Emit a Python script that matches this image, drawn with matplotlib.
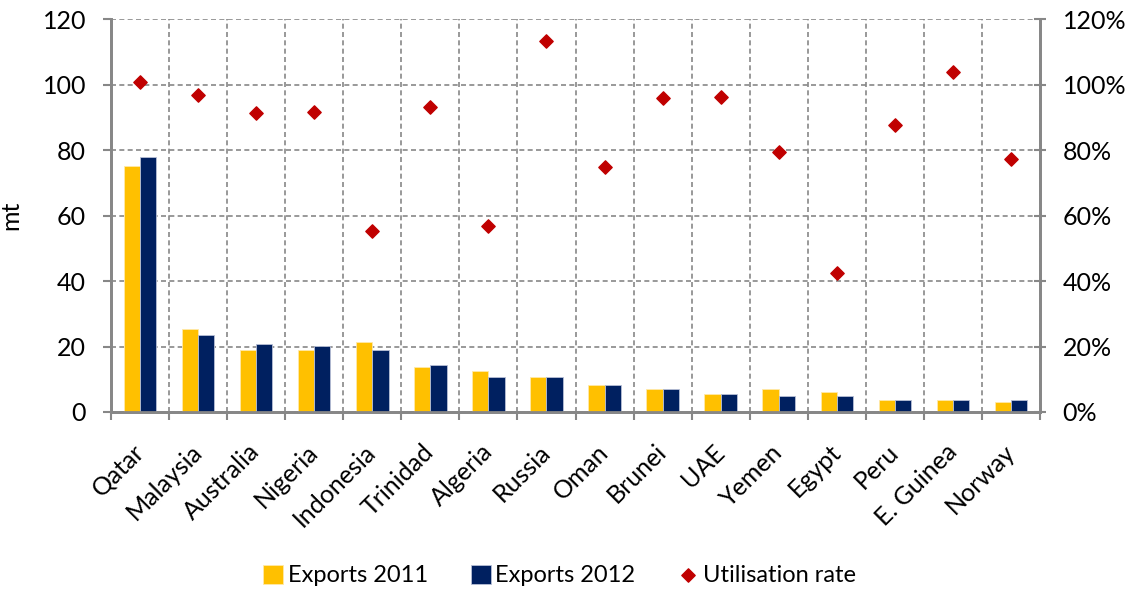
import numpy as np
import matplotlib.pyplot as plt
from matplotlib.ticker import FuncFormatter, FixedLocator

countries = ["Qatar", "Malaysia", "Australia", "Nigeria", "Indonesia", "Trinidad",
             "Algeria", "Russia", "Oman", "Brunei", "UAE", "Yemen", "Egypt",
             "Peru", "E. Guinea", "Norway"]
exports_2011 = [75.2, 25.3, 19.0, 19.0, 21.4, 13.8, 12.6, 10.7, 8.1, 6.9, 5.6, 6.9, 6.2, 3.7, 3.7, 3.0]
exports_2012 = [78.0, 23.4, 20.8, 20.2, 19.0, 14.5, 10.7, 10.7, 8.1, 6.9, 5.6, 5.0, 5.0, 3.7, 3.7, 3.7]
utilisation = [100.9, 96.7, 91.2, 91.6, 55.4, 93.1, 56.8, 113.4, 74.7, 95.8, 96.2, 79.3, 42.3, 87.7, 103.7, 77.3]

plt.rcParams['font.family'] = ['Lato', 'DejaVu Sans']
grey = '#878787'
fs = 18

fig = plt.figure(figsize=(11.3, 5.9), dpi=100)
ax = fig.add_axes([0.0982, 0.3017, 0.8222, 0.666])
ax2 = ax.twinx()

x = np.arange(len(countries))
w = 0.28
b1 = ax.bar(x - w / 2, exports_2011, w, color='#FFC000', edgecolor='#FFE9A8', linewidth=0.6,
            label='Exports 2011', zorder=3)
b2 = ax.bar(x + w / 2, exports_2012, w, color='#002060', edgecolor='#B8C0D6', linewidth=0.6,
            label='Exports 2012', zorder=3)
ax2.scatter(x, utilisation, marker='D', s=46, color='#C00000', zorder=4, label='Utilisation rate')

ax.set_xlim(-0.5, len(countries) - 0.5)
ax.set_ylim(0, 120)
ax2.set_ylim(0, 120)
ax.set_yticks(range(0, 121, 20))
ax2.set_yticks(range(0, 121, 20))
ax2.yaxis.set_major_formatter(FuncFormatter(lambda v, p: f"{int(v)}%"))

# category labels at bar centres, tick marks on category boundaries
ax.set_xticks(x)
ax.set_xticklabels(countries, rotation=45, ha='right', va='center', rotation_mode='anchor')
ax.tick_params(axis='x', length=0, labelsize=fs, pad=26)
ax.xaxis.set_minor_locator(FixedLocator(np.arange(-0.5, len(countries), 1.0)))
ax.tick_params(axis='x', which='minor', length=6, color=grey, width=1.5)
ax.tick_params(axis='y', length=6, color=grey, width=1.5, labelsize=fs, pad=12)
ax2.tick_params(axis='y', direction='inout', length=8.6, color=grey, width=1.5, labelsize=fs, pad=12)

ax.grid(True, which='minor', axis='x', linestyle=(0, (3, 2)), color=grey, linewidth=1.2, zorder=0)
ax.grid(True, which='major', axis='y', linestyle=(0, (3, 2)), color=grey, linewidth=1.2, zorder=0)
ax.set_axisbelow(True)

for a in (ax, ax2):
    a.spines['top'].set_visible(False)
    for s in ('left', 'right', 'bottom'):
        a.spines[s].set_color(grey)
        a.spines[s].set_linewidth(2)

ax.set_ylabel('mt', fontsize=fs)
ax.yaxis.set_label_coords(-0.096, 0.5)

handles = [b1, b2, ax2.collections[0]]
fig.legend(handles, [h.get_label() for h in handles], loc='lower center', ncol=3,
           frameon=False, fontsize=17, bbox_to_anchor=(0.495, -0.03),
           handlelength=0.85, handleheight=0.85, columnspacing=1.8, handletextpad=0.2)

fig.savefig('out.png', dpi=100)
